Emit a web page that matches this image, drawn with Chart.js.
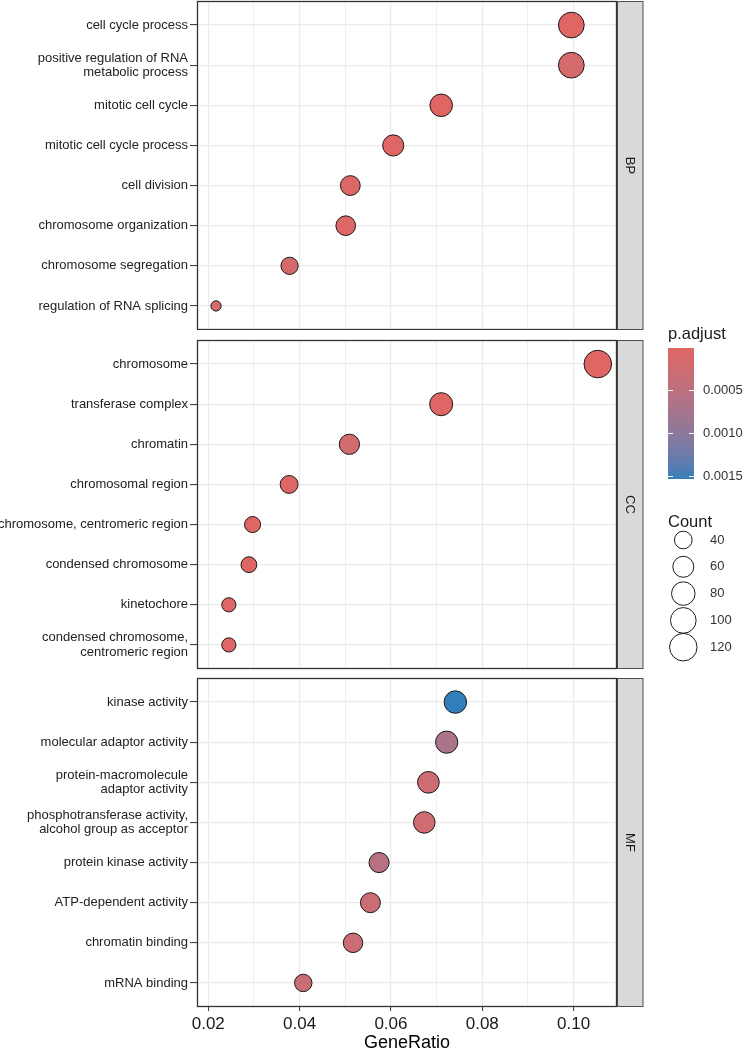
<!DOCTYPE html>
<html>
<head>
<meta charset="utf-8">
<script src="https://cdn.jsdelivr.net/npm/chart.js@4.4.1/dist/chart.umd.min.js"></script>
<style>
  html, body { margin: 0; padding: 0; background: #fff; }
  #wrap { position: relative; width: 744px; height: 1051px; overflow: hidden; }
  canvas { position: absolute; left: 0; }
</style>
</head>
<body>
<div id="wrap">
  <canvas id="panel-bp" width="744" height="330" style="top:0px"></canvas>
  <canvas id="panel-cc" width="744" height="400" style="top:300px"></canvas>
  <canvas id="panel-mf" width="744" height="383" style="top:668px"></canvas>
</div>
<script>
const FONT = "'Liberation Sans', Arial, Helvetica, sans-serif";

// ------------------------------
// DATA
// ------------------------------

const bpTerms = [
  "cell cycle process",
  ["positive regulation of RNA", "metabolic process"],
  "mitotic cell cycle",
  "mitotic cell cycle process",
  "cell division",
  "chromosome organization",
  "chromosome segregation",
  "regulation of RNA splicing"
];
const bpRatio = [0.0995, 0.0995, 0.0710, 0.0605, 0.0511, 0.0501, 0.0378, 0.0217];
const bpCount = [101, 101, 72, 61, 52, 51, 38, 22];
const bpPadj  = [0.00001, 0.00016, 0.00001, 0.00002, 0.00004, 0.00005, 0.00015, 0.00015];

const ccTerms = [
  "chromosome",
  "transferase complex",
  "chromatin",
  "chromosomal region",
  "chromosome, centromeric region",
  "condensed chromosome",
  "kinetochore",
  ["condensed chromosome,", "centromeric region"]
];
const ccRatio = [0.1053, 0.0710, 0.0509, 0.0377, 0.0297, 0.0289, 0.0245, 0.0245];
const ccCount = [121, 76, 55, 41, 33, 32, 27, 27];
const ccPadj  = [0.000002, 0.00002, 0.0002, 0.00003, 0.00001, 0.00001, 0.00002, 0.00002];

const mfTerms = [
  "kinase activity",
  "molecular adaptor activity",
  ["protein-macromolecule", "adaptor activity"],
  ["phosphotransferase activity,", "alcohol group as acceptor"],
  "protein kinase activity",
  "ATP-dependent activity",
  "chromatin binding",
  "mRNA binding"
];
const mfRatio = [0.0741, 0.0722, 0.0682, 0.0673, 0.0574, 0.0555, 0.0517, 0.0408];
const mfCount = [71, 69, 65, 64, 54, 53, 50, 39];
const mfPadj  = [0.00154, 0.0007, 0.00026, 0.00025, 0.00054, 0.0003, 0.00029, 0.00032];

const xMajor = [0.02, 0.04, 0.06, 0.08, 0.10];
const xMinor = [0.03, 0.05, 0.07, 0.09];
const xRange = [0.01753, 0.1095];

const countBreaks = [40, 60, 80, 100, 120];
const padjBreaks = [0.0005, 0.0010, 0.0015];


// ------------------------------
// SCALES FOR SIZE / COLOUR
// ------------------------------

const allCounts = bpCount.concat(ccCount, mfCount);
const allPadj = bpPadj.concat(ccPadj, mfPadj);
const cLo = Math.min(...allCounts), cHi = Math.max(...allCounts);
const pLo = Math.min(...allPadj), pHi = Math.max(...allPadj);

// area-style size scale, diameters in px
function bubbleRadius(c) {
  const t = Math.sqrt(Math.max(0, (c - cLo) / (cHi - cLo)));
  return (11.3 + t * (28.6 - 11.3)) / 2 - 0.5;
}

// colour ramp in CIELAB, low = red, high = blue
function toLin(c) { c /= 255; return c <= 0.04045 ? c / 12.92 : Math.pow((c + 0.055) / 1.055, 2.4); }
function fromLin(c) {
  c = c <= 0.0031308 ? 12.92 * c : 1.055 * Math.pow(c, 1 / 2.4) - 0.055;
  return Math.round(Math.max(0, Math.min(1, c)) * 255);
}
function fLab(t) { return t > 0.008856 ? Math.cbrt(t) : 7.787 * t + 16 / 116; }
function fInv(t) { return t > 0.206893 ? t * t * t : (t - 16 / 116) / 7.787; }
function hexToLab(h) {
  const r = toLin(parseInt(h.slice(1, 3), 16));
  const g = toLin(parseInt(h.slice(3, 5), 16));
  const b = toLin(parseInt(h.slice(5, 7), 16));
  const x = (r * 0.4124 + g * 0.3576 + b * 0.1805) / 0.95047;
  const y = (r * 0.2126 + g * 0.7152 + b * 0.0722);
  const z = (r * 0.0193 + g * 0.1192 + b * 0.9505) / 1.08883;
  return [116 * fLab(y) - 16, 500 * (fLab(x) - fLab(y)), 200 * (fLab(y) - fLab(z))];
}
function labToRgb(L, a, b) {
  const fy = (L + 16) / 116, fx = fy + a / 500, fz = fy - b / 200;
  const x = fInv(fx) * 0.95047, y = fInv(fy), z = fInv(fz) * 1.08883;
  const r = 3.2406 * x - 1.5372 * y - 0.4986 * z;
  const g = -0.9689 * x + 1.8758 * y + 0.0415 * z;
  const bb = 0.0557 * x - 0.2040 * y + 1.0570 * z;
  return "rgb(" + fromLin(r) + "," + fromLin(g) + "," + fromLin(bb) + ")";
}
const labLow = hexToLab("#e06663");
const labHigh = hexToLab("#327eba");
function padjColor(p) {
  const t = Math.max(0, Math.min(1, (p - pLo) / (pHi - pLo)));
  return labToRgb(
    labLow[0] + (labHigh[0] - labLow[0]) * t,
    labLow[1] + (labHigh[1] - labLow[1]) * t,
    labLow[2] + (labHigh[2] - labLow[2]) * t
  );
}

function isMajor(v) {
  return xMajor.some(m => Math.abs(m - v) < 1e-9);
}


// ------------------------------
// PANEL FRAME + STRIP
// ------------------------------

function panelFrame(label) {
  return {
    id: "frame",
    afterDraw(chart) {
      const a = chart.chartArea, g = chart.ctx;
      const h = a.bottom - a.top;
      g.save();
      g.fillStyle = "#d9d9d9";
      g.fillRect(a.right, a.top, 26, h);
      g.strokeStyle = "#4d4d4d";
      g.lineWidth = 1;
      g.strokeRect(a.right + 0.5, a.top + 0.5, 25.5, h - 1);
      g.strokeStyle = "#333";
      g.lineWidth = 1.3;
      g.strokeRect(a.left + 0.5, a.top + 0.5, a.right - a.left - 1, h - 1);

      g.translate(a.right + 13, a.top + h / 2);
      g.rotate(Math.PI / 2);
      g.fillStyle = "#1a1a1a";
      g.font = "13px " + FONT;
      g.textAlign = "center";
      g.textBaseline = "middle";
      g.fillText(label, 0, 0);
      g.restore();
    }
  };
}


// ------------------------------
// LEGENDS (drawn on middle canvas, top = 300)
// ------------------------------

const legendPlugin = {
  id: "sideLegend",
  afterDraw(chart) {
    const g = chart.ctx, oy = -300;
    g.save();

    g.fillStyle = "#1a1a1a";
    g.font = "16.5px " + FONT;
    g.textAlign = "left";
    g.textBaseline = "alphabetic";
    g.fillText("p.adjust", 668, 339 + oy);

    const top = 348 + oy, h = 131, bx = 668, bw = 26;
    for (let i = 0; i < h; i++) {
      const p = pLo + (pHi - pLo) * (i + 0.5) / h;
      g.fillStyle = padjColor(p);
      g.fillRect(bx, top + i, bw, 1);
    }

    g.font = "13px " + FONT;
    g.textBaseline = "middle";
    padjBreaks.forEach(p => {
      const y = Math.round(top + (p - pLo) / (pHi - pLo) * h) + 0.5;
      g.strokeStyle = "#fff";
      g.lineWidth = 1;
      g.beginPath();
      g.moveTo(bx, y); g.lineTo(bx + 5, y);
      g.moveTo(bx + bw - 5, y); g.lineTo(bx + bw, y);
      g.stroke();
      g.fillStyle = "#333";
      g.fillText(p.toFixed(4), 703, y);
    });

    g.font = "16.5px " + FONT;
    g.textBaseline = "alphabetic";
    g.fillStyle = "#1a1a1a";
    g.fillText("Count", 668, 527 + oy);

    g.font = "13px " + FONT;
    g.textBaseline = "middle";
    countBreaks.forEach((c, i) => {
      const y = 540 + i * 26.8 + oy;
      g.beginPath();
      g.arc(683.3, y, bubbleRadius(c), 0, 2 * Math.PI);
      g.strokeStyle = "#1a1a1a";
      g.lineWidth = 1;
      g.stroke();
      g.fillStyle = "#333";
      g.fillText(String(c), 710, y);
    });

    g.restore();
  }
};


// ------------------------------
// PANELS
// ------------------------------

function makePanel(id, terms, ratios, counts, padj, stripLabel, pad, showX, extra) {

  return new Chart(document.getElementById(id), {
    type: "bubble",
    data: {
      datasets: [{
        data: ratios.map((x, i) => ({ x: x, y: i, r: bubbleRadius(counts[i]) })),
        backgroundColor: padj.map(padjColor),
        borderColor: "#1a1a1a",
        borderWidth: 1
      }]
    },
    options: {
      responsive: false,
      animation: false,
      events: [],
      layout: { padding: pad, autoPadding: false },
      plugins: { legend: { display: false }, tooltip: { enabled: false } },
      scales: {
        x: {
          type: "linear",
          min: xRange[0],
          max: xRange[1],
          afterBuildTicks: s => {
            s.ticks = xMajor.concat(xMinor).sort((a, b) => a - b).map(v => ({ value: v }));
          },
          afterFit: s => {
            s.height = showX ? 44 : 0;
            s.paddingLeft = 0;
            s.paddingRight = 0;
          },
          border: { display: false },
          grid: {
            color: "#ebebeb",
            lineWidth: c => (c.tick && isMajor(c.tick.value)) ? 1.2 : 0.8,
            drawTicks: showX,
            tickLength: 4,
            tickWidth: 1,
            tickColor: c => (c.tick && isMajor(c.tick.value)) ? "#333" : "rgba(0,0,0,0)"
          },
          ticks: {
            display: showX,
            autoSkip: false,
            maxRotation: 0,
            padding: 3,
            color: "#1a1a1a",
            font: { family: FONT, size: 17 },
            callback: v => isMajor(v) ? v.toFixed(2) : ""
          },
          title: {
            display: showX,
            text: "GeneRatio",
            color: "#000",
            font: { family: FONT, size: 18 },
            padding: { top: 0, bottom: -3 }
          }
        },
        y: {
          type: "linear",
          reverse: true,
          min: -0.6,
          max: terms.length - 0.4,
          afterBuildTicks: s => { s.ticks = terms.map((_, i) => ({ value: i })); },
          afterFit: s => {
            s.width = 197;
            s.paddingTop = 0;
            s.paddingBottom = 0;
          },
          border: { display: false },
          grid: {
            color: "#ebebeb",
            lineWidth: 1.2,
            tickLength: 7,
            tickWidth: 1,
            tickColor: "#333"
          },
          ticks: {
            autoSkip: false,
            padding: 2,
            color: "#222",
            font: { family: FONT, size: 13, lineHeight: 1.1 },
            callback: v => terms[v]
          }
        }
      }
    },
    plugins: [panelFrame(stripLabel)].concat(extra || [])
  });
}


document.addEventListener("DOMContentLoaded", () => {

  makePanel("panel-bp", bpTerms, bpRatio, bpCount, bpPadj, "BP",
    { top: 1, right: 127, bottom: 0, left: 0 }, false);

  makePanel("panel-cc", ccTerms, ccRatio, ccCount, ccPadj, "CC",
    { top: 40, right: 127, bottom: 31, left: 0 }, false, [legendPlugin]);

  makePanel("panel-mf", mfTerms, mfRatio, mfCount, mfPadj, "MF",
    { top: 10, right: 127, bottom: 0, left: 0 }, true);

});
</script>
</body>
</html>
